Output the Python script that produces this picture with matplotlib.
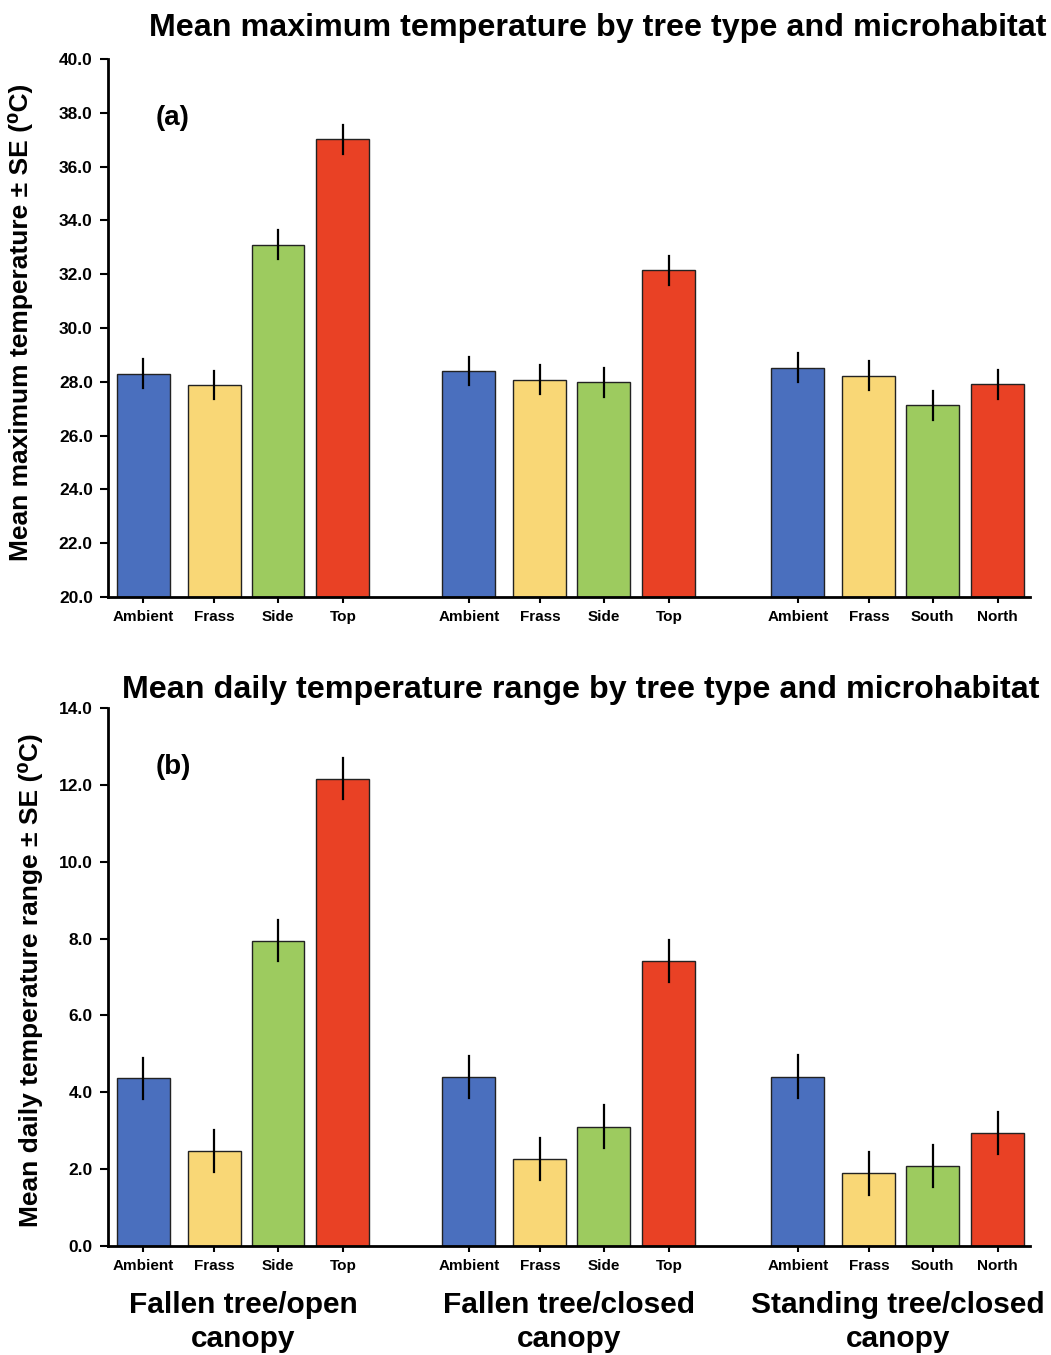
import matplotlib.pyplot as plt
import numpy as np

plt.rcParams['font.family'] = ['Liberation Sans', 'DejaVu Sans']
plt.rcParams['font.weight'] = 'bold'

# Data
groups = ['Fallen tree/open\ncanopy', 'Fallen tree/closed\ncanopy', 'Standing tree/closed\ncanopy']
labels = [['Ambient', 'Frass', 'Side', 'Top'],
          ['Ambient', 'Frass', 'Side', 'Top'],
          ['Ambient', 'Frass', 'South', 'North']]

max_temp = [[28.3, 27.88, 33.1, 37.02],
            [28.4, 28.08, 27.98, 32.15],
            [28.53, 28.22, 27.12, 27.91]]
max_temp_se = [[0.53, 0.53, 0.53, 0.54],
               [0.53, 0.54, 0.54, 0.54],
               [0.53, 0.54, 0.54, 0.54]]

daily_range = [[4.36, 2.47, 7.95, 12.16],
               [4.4, 2.27, 3.11, 7.42],
               [4.41, 1.89, 2.09, 2.94]]
daily_range_se = [[0.54, 0.54, 0.54, 0.54],
                  [0.55, 0.55, 0.55, 0.55],
                  [0.55, 0.55, 0.55, 0.55]]

colors = ['#4A6FBE', '#F9D776', '#9DCB5F', '#E94125']

# Bar layout (pixel-like units on the x axis)
group_starts = [143, 469, 798]
offsets = [0, 71, 135, 200]
bar_width = 53

fig = plt.figure(figsize=(10.51, 13.55), dpi=100)
ax_a = fig.add_axes([0.1028, 0.5594, 0.877, 0.3971])
ax_b = fig.add_axes([0.1028, 0.0804, 0.877, 0.3971])


def draw_panel(ax, values, errors, ylim, yticks, ylabel, label_x, label_y,
               title, title_x, title_y, tag):
    xs, tick_labels = [], []
    for g in range(len(group_starts)):
        for k in range(4):
            x = group_starts[g] + offsets[k]
            ax.bar(x, values[g][k] - ylim[0], bottom=ylim[0], width=bar_width,
                   color=colors[k], edgecolor='#222222', linewidth=1.0, zorder=2)
            ax.plot([x, x], [values[g][k] - errors[g][k], values[g][k] + errors[g][k]],
                    color='black', linewidth=1.6, zorder=3)
            xs.append(x)
            tick_labels.append(labels[g][k])

    ax.set_xlim(108, 1030)
    ax.set_ylim(*ylim)
    ax.set_yticks(yticks)
    ax.set_yticklabels([f'{t:.1f}' for t in yticks], fontsize=12.5, fontweight='bold')
    ax.set_xticks(xs)
    ax.set_xticklabels(tick_labels, fontsize=11, fontweight='bold')
    ax.tick_params(axis='y', length=6, width=1.5, pad=5)
    ax.tick_params(axis='x', length=4, width=1.5, pad=5)

    for s in ['top', 'right']:
        ax.spines[s].set_visible(False)
    for s in ['left', 'bottom']:
        ax.spines[s].set_linewidth(2)

    ax.set_ylabel(ylabel, fontsize=19, fontweight='bold')
    ax.yaxis.set_label_coords(label_x, label_y)
    fig.text(title_x, title_y, title, ha='center', va='center', fontsize=23.2, fontweight='bold')
    ax.text(0.052, 0.89, tag, transform=ax.transAxes, fontsize=20, fontweight='bold', va='center')


draw_panel(ax_a, max_temp, max_temp_se, (20, 40), np.arange(20, 40.1, 2.0),
           'Mean maximum temperature \u00b1 SE (\u2070C)', -0.081, 0.51,
           'Mean maximum temperature by tree type and microhabitat',
           598 / 1051, 1 - 28 / 1355, '(a)')
draw_panel(ax_b, daily_range, daily_range_se, (0, 14), np.arange(0, 14.1, 2.0),
           'Mean daily temperature range \u00b1 SE (\u2070C)', -0.0705, 0.495,
           'Mean daily temperature range by tree type and microhabitat',
           581 / 1051, 1 - 690 / 1355, '(b)')

# Group names under the lower panel
for g, name in enumerate(groups):
    x = group_starts[g] + (offsets[0] + offsets[-1]) / 2
    ax_b.text(x, -0.083, name, transform=ax_b.get_xaxis_transform(),
              ha='center', va='top', fontsize=21.5, fontweight='bold', linespacing=1.3)

fig.savefig('out.png', dpi=100)
